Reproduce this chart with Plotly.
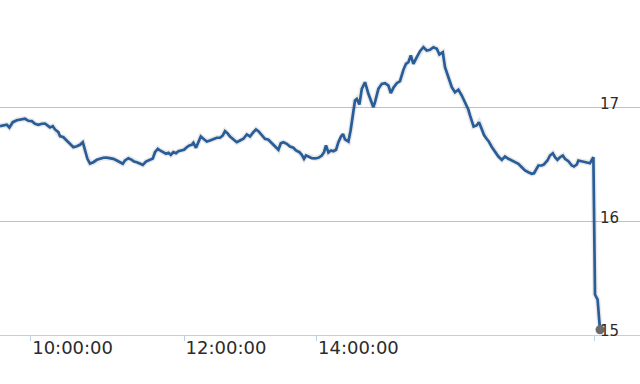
import plotly.graph_objects as go

# Session bar index (ordinal position along the trading session)
bar_a = [0, 1.7, 3.4, 4.7, 6.4, 8.4, 10.9, 12.5, 14.2, 15.9, 17.5, 19.2, 20.9, 22.5, 24.2, 25, 26.4, 27.5,
         29.2, 30, 31.7, 33.4, 35, 36.7, 38.4, 40, 41.4, 42.5, 43.7, 45, 46.7, 48.4, 50, 51.7, 53.4]
price_a = [16.836, 16.842, 16.848, 16.824, 16.871, 16.888, 16.894, 16.901, 16.883, 16.880, 16.857, 16.848,
           16.857, 16.859, 16.836, 16.824, 16.836, 16.807, 16.783, 16.748, 16.739, 16.710, 16.681, 16.651,
           16.660, 16.672, 16.695, 16.622, 16.549, 16.508, 16.519, 16.540, 16.549, 16.558, 16.560]

bar_b = [55, 56.7, 58.4, 60, 61.4, 62.5, 64.2, 65.9, 67, 68.4, 70, 71.4, 73, 74.7, 76.4, 77.5, 78.9, 80, 81.7,
         83, 84.2, 85.4, 86.7, 88, 89.2, 90.9, 92, 93.4, 94.7, 95.9, 96.7, 98, 99.2, 100.4, 101.7, 103.4, 105,
         106.7, 108.4]
price_b = [16.554, 16.549, 16.534, 16.519, 16.505, 16.534, 16.554, 16.540, 16.525, 16.519, 16.505, 16.496,
           16.525, 16.540, 16.552, 16.607, 16.637, 16.622, 16.607, 16.593, 16.602, 16.584, 16.607, 16.598,
           16.616, 16.622, 16.628, 16.651, 16.666, 16.672, 16.690, 16.646, 16.695, 16.745, 16.725, 16.701,
           16.710, 16.725, 16.734]

bar_c = [110, 111.4, 112.5, 113.7, 115, 116.7, 118.4, 120, 121.7, 123.4, 125, 126.7, 128, 129.2, 130.9, 132.5,
         134.2, 135.9, 137.5, 139.2, 140.4, 141.7, 143.4, 145, 146.7, 148, 149.7, 150.9, 152, 153, 154.2, 155.9,
         157.5, 159.2]
price_c = [16.734, 16.754, 16.792, 16.774, 16.745, 16.716, 16.695, 16.710, 16.725, 16.763, 16.745, 16.783,
           16.807, 16.792, 16.754, 16.725, 16.716, 16.686, 16.660, 16.628, 16.686, 16.695, 16.681, 16.657,
           16.646, 16.622, 16.607, 16.584, 16.549, 16.578, 16.569, 16.554, 16.552, 16.558]

bar_d = [160.9, 162, 163, 164.2, 165.5, 166.7, 168, 169.2, 170.5, 171.5, 172.5, 174.2, 175.3, 176.4, 177.5,
         178.4, 179.7, 180.9, 182.5, 184.2, 185.5, 186.7, 187.5, 189.2, 190.9, 192.5, 194.2, 195.4, 196.7,
         198.4, 200, 201.7, 203, 204.2, 205.4, 206.7, 208.4, 210, 211.7, 213.4, 215, 216.7, 218.4, 219.7,
         221.4, 222.5, 224.2, 225.9, 227.5, 229.2, 230.9, 232.5, 234.2]
price_d = [16.578, 16.607, 16.666, 16.604, 16.622, 16.616, 16.628, 16.695, 16.745, 16.767, 16.719, 16.701,
           16.798, 16.945, 17.062, 17.076, 17.026, 17.164, 17.222, 17.120, 17.062, 17.003, 17.047, 17.164,
           17.208, 17.214, 17.193, 17.126, 17.173, 17.214, 17.231, 17.331, 17.384, 17.398, 17.457, 17.384,
           17.442, 17.495, 17.530, 17.501, 17.507, 17.530, 17.516, 17.466, 17.486, 17.354, 17.266, 17.178,
           17.134, 17.156, 17.105, 17.047, 16.980]

bar_e = [235, 236.8, 238.3, 239.5, 240.8, 242, 243.3, 244.3, 245.9, 247.5, 249.2, 250.9, 252.5, 254.2, 255.9,
         257.5, 259.2, 260.9, 262.5, 264.2, 265.9, 267, 268, 269.2, 270.9, 272, 273.7, 275, 276.4, 277.5,
         278.7, 280, 281.4, 282.5, 284.2, 285.9, 287, 288.4, 289.2, 290.4, 291.7, 293.4, 295, 295.9, 296.7,
         297.5, 298.8, 300]
price_e = [16.930, 16.833, 16.842, 16.871, 16.813, 16.758, 16.725, 16.704, 16.653, 16.607, 16.569, 16.540,
           16.569, 16.549, 16.534, 16.519, 16.505, 16.475, 16.446, 16.431, 16.417, 16.422, 16.452, 16.490,
           16.490, 16.499, 16.534, 16.578, 16.598, 16.563, 16.540, 16.563, 16.578, 16.549, 16.528, 16.490,
           16.481, 16.499, 16.534, 16.528, 16.528, 16.519, 16.510, 16.540, 16.563, 15.356, 15.312, 15.046]

# Axis ticks
x_tick_bars = [15.3, 92, 158.2, 297]
x_tick_labels = ["10:00:00", "12:00:00", "14:00:00", ""]
y_ticks = [15, 16, 17]
x_range = [0, 320]
y_range = [15, 17.945]

bars = bar_a + bar_b + bar_c + bar_d + bar_e
prices = price_a + price_b + price_c + price_d + price_e
assert len(bars) == len(prices)

fig = go.Figure()
# soft shadow under the line
fig.add_trace(go.Scatter(x=bars, y=prices, mode="lines",
                         line=dict(color="rgba(0,0,0,0.09)", width=5.5),
                         hoverinfo="skip", showlegend=False))
fig.add_trace(go.Scatter(x=bars, y=prices, mode="lines",
                         line=dict(color="#285d99", width=2.7),
                         showlegend=False))
fig.add_trace(go.Scatter(x=[bars[-1]], y=[prices[-1]], mode="markers",
                         marker=dict(color="#6b6b6b", size=9),
                         showlegend=False, cliponaxis=False))

fig.update_layout(
    width=640, height=384, autosize=False,
    margin=dict(l=0, r=0, t=0, b=49, pad=0),
    paper_bgcolor="white", plot_bgcolor="white",
    font=dict(family="DejaVu Sans", color="#2b2b2b"),
    showlegend=False,
)
fig.update_xaxes(
    range=x_range, showgrid=False, zeroline=False,
    showline=True, linecolor="#C0D0E0", linewidth=1,
    ticks="outside", ticklen=5, tickcolor="#C0D0E0", tickwidth=1,
    tickmode="array", tickvals=x_tick_bars, ticktext=x_tick_labels,
    tickfont=dict(size=18, family="DejaVu Sans", color="#2b2b2b"),
    ticklabelshift=42, ticklabelstandoff=-9, ticklabeloverflow="allow",
)
fig.update_yaxes(
    range=y_range, side="right", showgrid=True, gridcolor="#C0C0C0", gridwidth=1,
    zeroline=False, showline=False, ticks="",
    tickmode="array", tickvals=y_ticks, ticktext=[str(v) for v in y_ticks],
    ticklabelposition="inside", ticklabelstandoff=18, ticklabelshift=-4,
    ticklabeloverflow="allow",
    tickfont=dict(size=15, family="DejaVu Sans", color="#2b2b2b"),
)

fig.write_html("out.html")
